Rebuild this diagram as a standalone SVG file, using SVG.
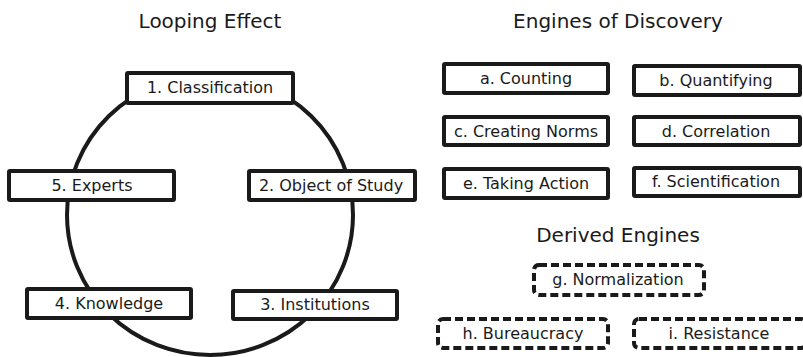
<svg xmlns="http://www.w3.org/2000/svg" width="803" height="357" viewBox="0 0 803 357">
  <style>
    .title { font-family: "DejaVu Sans", "Liberation Sans", sans-serif; font-size: 20px; fill: #1a1a1a; text-anchor: middle; }
    .label { font-family: "DejaVu Sans", "Liberation Sans", sans-serif; font-size: 16px; fill: #1a1a1a; text-anchor: middle; }
    .box { fill: #fff; stroke: #1a1a1a; stroke-width: 4; }
    .dbox { fill: #fff; stroke: #1a1a1a; stroke-width: 4; stroke-dasharray: 8 4; }
    .loop { fill: none; stroke: #1a1a1a; stroke-width: 4; }
  </style>

  <!-- headings -->
  <text class="title" x="210" y="28">Looping Effect</text>
  <text class="title" x="618" y="28">Engines of Discovery</text>
  <text class="title" x="618" y="242">Derived Engines</text>

  <!-- loop connecting the five stages -->
  <g id="connectors">
    <ellipse class="loop" cx="210" cy="215" rx="143" ry="140"/>
  </g>

  <g id="n1"><rect class="box" x="127" y="73" width="166" height="30" rx="1"/><text class="label" x="210" y="93">1. Classification</text></g>
  <g id="n2"><rect class="box" x="249" y="171" width="166" height="29" rx="1"/><text class="label" x="331" y="191">2. Object of Study</text></g>
  <g id="n3"><rect class="box" x="233" y="291" width="164" height="28" rx="1"/><text class="label" x="315" y="310">3. Institutions</text></g>
  <g id="n4"><rect class="box" x="27" y="289" width="164" height="29" rx="1"/><text class="label" x="109" y="309">4. Knowledge</text></g>
  <g id="n5"><rect class="box" x="9" y="171" width="165" height="29" rx="1"/><text class="label" x="92" y="191">5. Experts</text></g>

  <!-- engines of discovery -->
  <g id="a"><rect class="box" x="444" y="64" width="164" height="29" rx="1"/><text class="label" x="526" y="84">a. Counting</text></g>
  <g id="b"><rect class="box" x="634" y="66" width="166" height="29" rx="1"/><text class="label" x="716" y="86">b. Quantifying</text></g>
  <g id="c"><rect class="box" x="444" y="117" width="164" height="28" rx="1"/><text class="label" x="526" y="137">c. Creating Norms</text></g>
  <g id="d"><rect class="box" x="634" y="117" width="166" height="28" rx="1"/><text class="label" x="716" y="137">d. Correlation</text></g>
  <g id="e"><rect class="box" x="444" y="169" width="164" height="29" rx="1"/><text class="label" x="526" y="189">e. Taking Action</text></g>
  <g id="f"><rect class="box" x="634" y="168" width="166" height="28" rx="1"/><text class="label" x="716" y="187">f. Scientification</text></g>

  <!-- derived engines -->
  <g id="g"><rect class="dbox" x="534" y="265" width="170" height="30" rx="5"/><text class="label" x="618" y="285">g. Normalization</text></g>
  <g id="h"><rect class="dbox" x="438" y="319" width="170" height="29" rx="5"/><text class="label" x="523" y="339">h. Bureaucracy</text></g>
  <g id="i"><rect class="dbox" x="634" y="319" width="172" height="29" rx="5"/><text class="label" x="719" y="339">i. Resistance</text></g>
</svg>
